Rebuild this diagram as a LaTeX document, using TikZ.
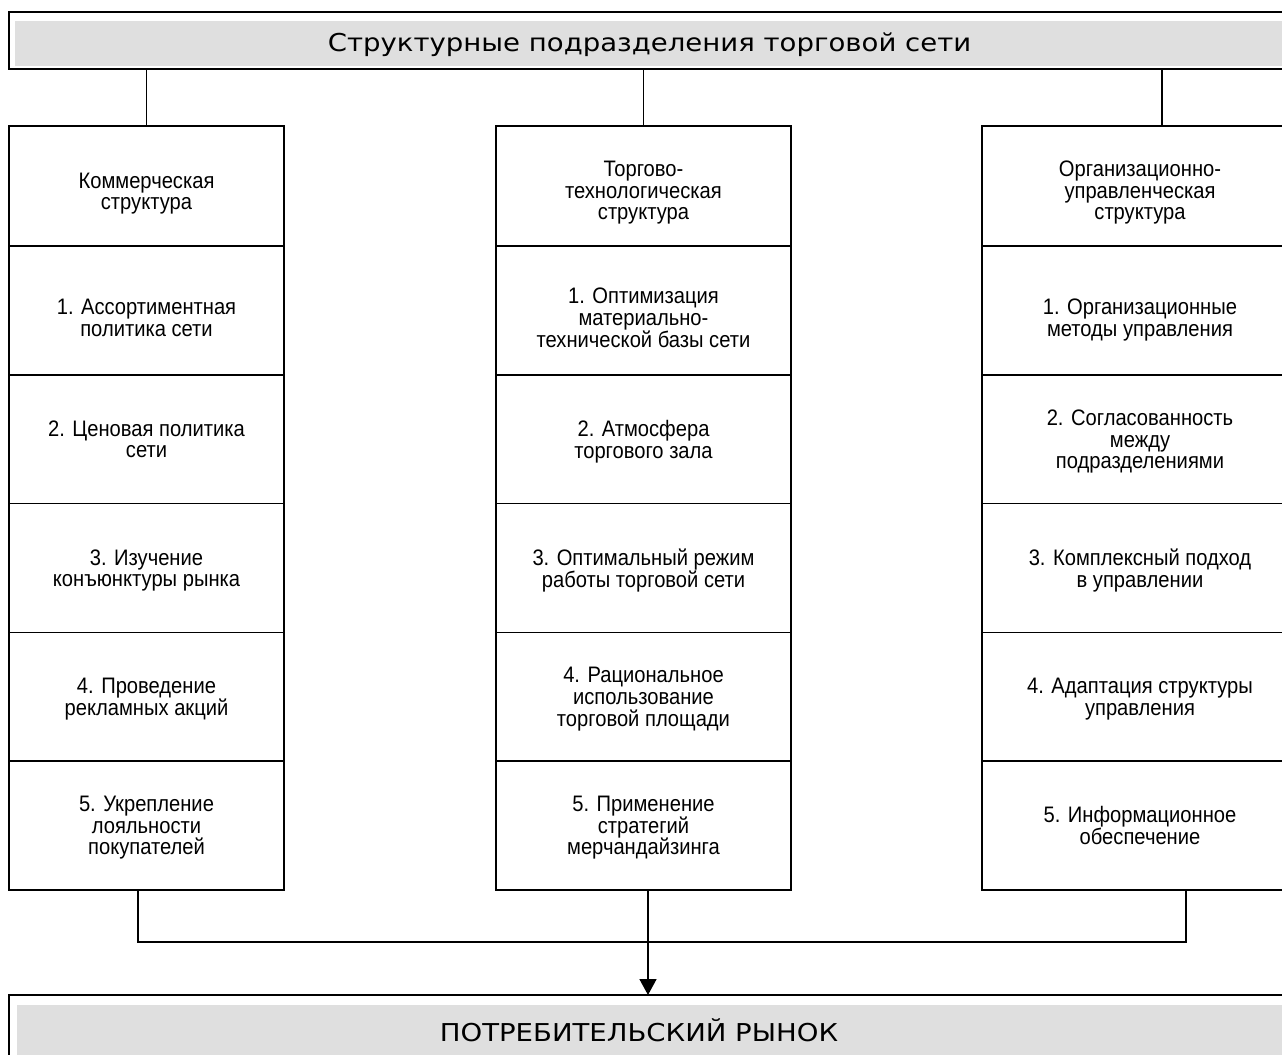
\documentclass[tikz,border=0pt]{standalone}
\usepackage{fontspec}
\setmainfont[FakeStretch=0.9]{Liberation Sans}
\newfontfamily\widefont[FakeStretch=1.12]{DejaVu Sans}
\usepackage{tikz}
\usetikzlibrary{positioning,arrows.meta,calc,backgrounds}
\definecolor{bandgray}{RGB}{223, 223, 223}
\newcommand{\celltext}{\fontsize{11.2}{10.8}\selectfont\lineskiplimit -20pt\relax}
\tikzstyle{band} = [rectangle, draw=black, line width=0.8pt, inner sep=0pt, outer sep=0pt, minimum width=640.5pt, text height=11pt, text depth=0pt, font=\widefont\fontsize{12.3}{14}\selectfont]
\tikzstyle{cell} = [rectangle, draw=black, line width=0.8pt, inner sep=0pt, outer sep=0pt, align=center, text depth=0pt, font=\celltext]
\tikzstyle{head} = [cell, minimum height=60pt]
\tikzstyle{item} = [cell, minimum height=64.4pt]
\tikzstyle{kom}  = [minimum width=137.5pt]
\tikzstyle{tech} = [minimum width=147.5pt]
\tikzstyle{org}  = [minimum width=158pt]
\tikzstyle{link} = [draw, line width=0.8pt]

\begin{document}
\begin{tikzpicture}
\useasboundingbox (0,0) rectangle (641pt,-527.5pt);
\clip (0,0) rectangle (641pt,-527.5pt);

% top band =============================
\node[band, minimum height=28.5pt, anchor=north west] (title) at (4.5pt,-6pt) {Структурные подразделения торговой сети};

% columns
\node[head, kom, text height=23.8pt, below right=28.5pt and 0pt of title.south west] (kom0) {Коммерческая\\структура};
\node[head, tech, text height=33.6pt, right=106pt of kom0] (tech0) {Торгово-\\технологическая\\структура};
\node[head, org, text height=33.6pt, right=95.5pt of tech0] (org0) {Организационно-\\управленческая\\структура};

% commercial
\node[item, kom, text height=25.8pt, below=0pt of kom0] (kom1) {1. Ассортиментная\\политика сети};
\node[item, kom, below=0pt of kom1] (kom2) {2. Ценовая политика\\сети};
\node[item, kom, below=0pt of kom2] (kom3) {3. Изучение\\конъюнктуры рынка};
\node[item, kom, below=0pt of kom3] (kom4) {4. Проведение\\рекламных акций};
\node[item, kom, below=0pt of kom4] (kom5) {5. Укрепление\\лояльности\\покупателей};

% trade technology
\node[item, tech, text height=36.6pt, below=0pt of tech0] (tech1) {1. Оптимизация\\материально-\\технической базы сети};
\node[item, tech, below=0pt of tech1] (tech2) {2. Атмосфера\\торгового зала};
\node[item, tech, below=0pt of tech2] (tech3) {3. Оптимальный режим\\работы торговой сети};
\node[item, tech, below=0pt of tech3] (tech4) {4. Рациональное\\использование\\торговой площади};
\node[item, tech, below=0pt of tech4] (tech5) {5. Применение\\стратегий\\мерчандайзинга};

% organisation
\node[item, org, text height=25.8pt, below=0pt of org0] (org1) {1. Организационные\\методы управления};
\node[item, org, below=0pt of org1] (org2) {2. Согласованность\\между\\подразделениями};
\node[item, org, below=0pt of org2] (org3) {3. Комплексный подход\\в управлении};
\node[item, org, below=0pt of org3] (org4) {4. Адаптация структуры\\управления};
\node[item, org, below=0pt of org4] (org5) {5. Информационное\\обеспечение};

% bottom band
\node[band, minimum height=35pt, below right=52.5pt and 0pt of kom5.south west] (market) {\hspace*{-10.5pt}ПОТРЕБИТЕЛЬСКИЙ РЫНОК};
\coordinate[below=26pt of tech5.south] (merge);

% gray fills
\begin{scope}[on background layer]
\fill[bandgray] ($(title.north west)+(3pt,-4.5pt)$) rectangle ($(title.south east)+(0,1.5pt)$);
\fill[bandgray] ($(market.north west)+(4pt,-5pt)$) rectangle ($(market.south east)+(0,1.5pt)$);
\end{scope}

%edges
\path[link] (kom0.north) -- (kom0.north |- title.south);
\path[link] (tech0.north) -- (tech0.north |- title.south);
\path[link] ([xshift=11pt]org0.north) -- ([xshift=11pt]org0.north |- title.south);

\path[link] ([xshift=-4.25pt]kom5.south) |- (merge);
\path[link] ([xshift=23pt]org5.south) |- (merge);
\path[link, -{Triangle[width=8.5pt,length=8pt]}] ([xshift=2.25pt]tech5.south) -- ([xshift=2.25pt]tech5.south |- market.north);

\end{tikzpicture}
\end{document}
